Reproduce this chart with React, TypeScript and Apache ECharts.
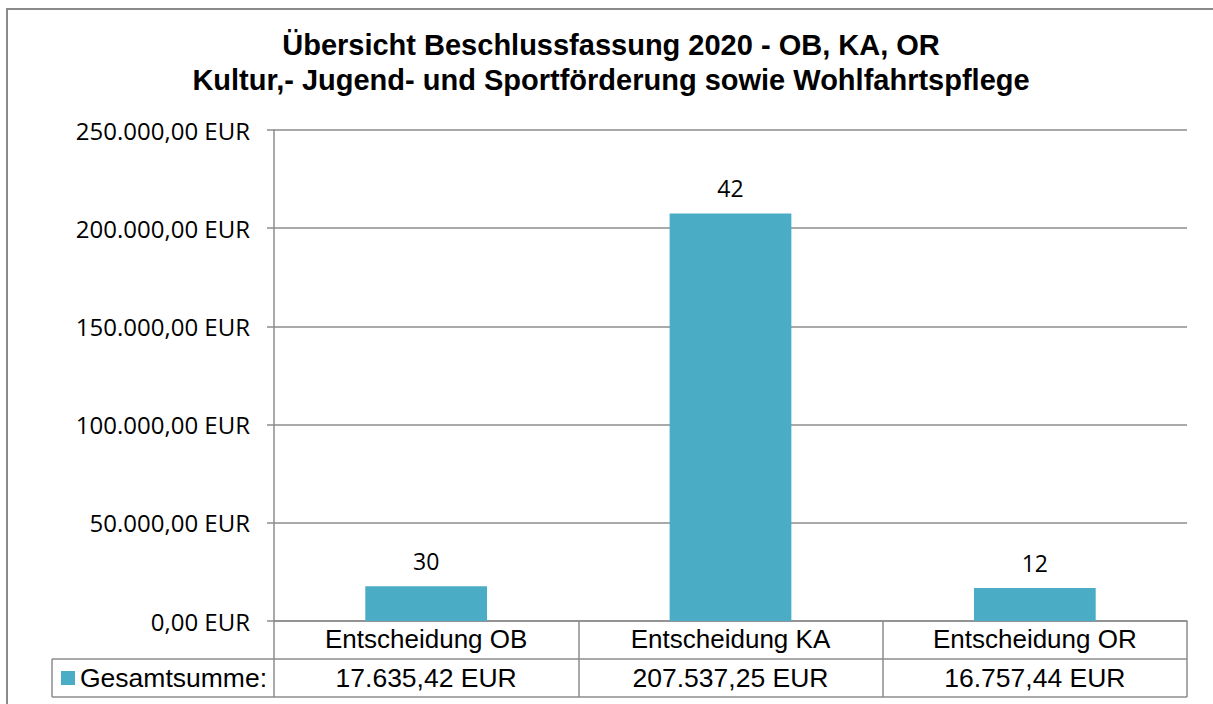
import React, { useEffect, useRef } from "react";
import * as echarts from "echarts";

const categories = ["Entscheidung OB", "Entscheidung KA", "Entscheidung OR"];
const totals = [17635.42, 207537.25, 16757.44];
const counts = [30, 42, 12];
const titleLines = [
  "Übersicht Beschlussfassung 2020 - OB, KA, OR",
  "Kultur,- Jugend- und Sportförderung sowie Wohlfahrtspflege",
];
const seriesName = "Gesamtsumme:";
const yMin = 0;
const yMax = 250000;
const yInterval = 50000;

const BAR = "#4BACC6";
const LINE = "#8c8c8c";
const ARIAL = "'Liberation Sans', Arial, sans-serif";
const CALIBRI = "'Open Sans', 'Noto Sans', sans-serif";

function fmtDE(v: number): string {
  const [i, d] = v.toFixed(2).split(".");
  return i.replace(/\B(?=(\d{3})+(?!\d))/g, ".") + "," + d + " EUR";
}

const W = 1213;
const H = 704;
const GL = 274;
const GR = 26;
const GT = 130;
const GB = 83;

export default function App() {
  const ref = useRef<HTMLDivElement>(null);
  useEffect(() => {
    if (!ref.current) return;
    const chart = echarts.init(ref.current, null, { renderer: "svg" });
    chart.setOption({
      animation: false,
      backgroundColor: "#ffffff",
      grid: { left: GL, right: GR, top: GT, bottom: GB, containLabel: false },
      xAxis: {
        type: "category",
        data: categories,
        axisLine: { show: true, lineStyle: { color: LINE, width: 1.5 } },
        axisTick: { show: true, length: 76, lineStyle: { color: LINE, width: 1.5 } },
        axisLabel: {
          color: "#000",
          fontFamily: ARIAL,
          fontSize: 26,
          margin: 5,
        },
      },
      yAxis: {
        type: "value",
        min: yMin,
        max: yMax,
        interval: yInterval,
        axisLine: { show: true, lineStyle: { color: LINE, width: 1.5 } },
        axisTick: { show: true, length: 7, lineStyle: { color: LINE, width: 1.5 } },
        splitLine: { show: true, lineStyle: { color: LINE, width: 1.5 } },
        axisLabel: {
          color: "#000",
          fontFamily: CALIBRI,
          fontSize: 24,
          margin: 24,
          formatter: (v: number) => fmtDE(v),
        },
      },
      series: [
        {
          type: "bar",
          name: seriesName,
          data: totals,
          barWidth: "40%",
          itemStyle: { color: BAR },
          label: {
            show: true,
            position: "top",
            distance: 14,
            color: "#000",
            fontFamily: CALIBRI,
            fontSize: 23,
            formatter: (p: any) => String(counts[p.dataIndex]),
          },
        },
      ],
    });

    const centers = categories.map((_, i) => chart.convertToPixel({ xAxisIndex: 0 }, i) as number);
    const y0 = chart.convertToPixel({ yAxisIndex: 0 }, 0) as number;
    const right = W - GR;
    const row1 = y0 + 38;
    const row2 = y0 + 76;
    const tableLeft = 52;

    const graphic: any[] = [
      {
        type: "rect",
        shape: { x: 7, y: 9, width: 1400, height: 900 },
        style: { fill: "none", stroke: "#8a8a8a", lineWidth: 2 },
        silent: true,
      },
      ...titleLines.map((t, i) => ({
        type: "text",
        x: 611,
        y: 45 + i * 35,
        style: {
          text: t,
          fontFamily: ARIAL,
          fontWeight: "bold",
          fontSize: 29,
          fill: "#000",
          textAlign: "center",
          textVerticalAlign: "middle",
        },
      })),
      {
        type: "line",
        shape: { x1: tableLeft, y1: row1, x2: right, y2: row1 },
        style: { stroke: LINE, lineWidth: 1.5 },
      },
      {
        type: "line",
        shape: { x1: tableLeft, y1: row2, x2: right, y2: row2 },
        style: { stroke: LINE, lineWidth: 1.5 },
      },
      {
        type: "line",
        shape: { x1: tableLeft, y1: row1, x2: tableLeft, y2: row2 },
        style: { stroke: LINE, lineWidth: 1.5 },
      },
      {
        type: "rect",
        shape: { x: 61, y: row1 + 12, width: 14, height: 14 },
        style: { fill: BAR },
      },
      {
        type: "text",
        x: 80,
        y: (row1 + row2) / 2,
        style: {
          text: seriesName,
          fontFamily: ARIAL,
          fontSize: 26.5,
          fill: "#000",
          textAlign: "left",
          textVerticalAlign: "middle",
        },
      },
      ...totals.map((v, i) => ({
        type: "text",
        x: centers[i],
        y: (row1 + row2) / 2,
        style: {
          text: fmtDE(v),
          fontFamily: ARIAL,
          fontSize: 26.5,
          fill: "#000",
          textAlign: "center",
          textVerticalAlign: "middle",
        },
      })),
    ];
    chart.setOption({ graphic });
    return () => chart.dispose();
  }, []);
  return (
    <div
      ref={ref}
      style={{ position: "absolute", left: 0, top: 0, width: W, height: H }}
    />
  );
}
